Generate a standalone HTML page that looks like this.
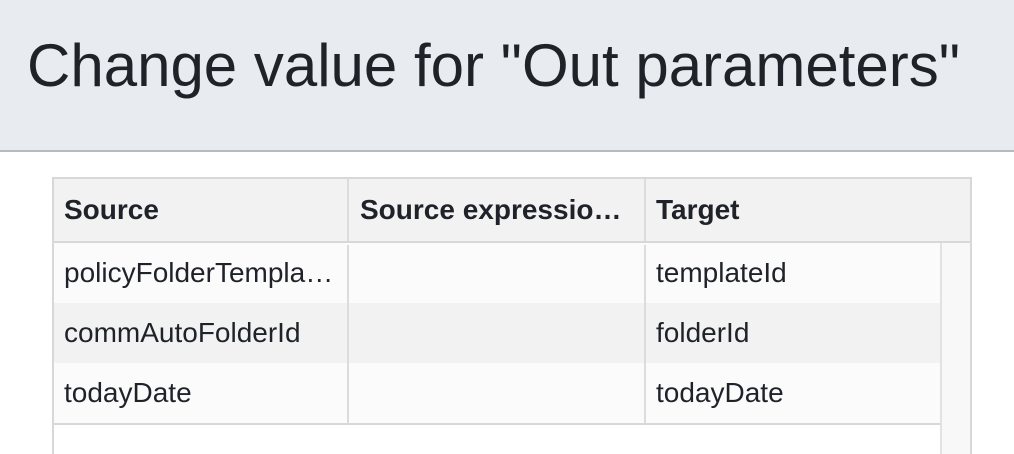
<!DOCTYPE html>
<html><head><style>
html,body{margin:0;width:1014px;height:454px;overflow:hidden}
body{background:#fff;font-family:"Liberation Sans",Arial,sans-serif;color:#1f2329;position:relative}
.hdr{position:absolute;left:0;top:0;width:1014px;height:150px;background:#e8ecf0;border-bottom:2px solid #b4bac2}
.title{position:absolute;left:27px;top:31px;font-size:60px;white-space:nowrap}
.tbl{position:absolute;left:52px;top:177px;width:916px;height:275px;border:2px solid #d8d8d8;border-bottom:none;background:#fff;overflow:hidden}
.th{position:absolute;top:0;height:62px;background:#f2f2f2;border-bottom:2px solid #d8d8d8;width:916px}
.cell{position:absolute;font-size:28px;line-height:60px;padding-left:10px;white-space:nowrap}
.b{font-weight:bold}
.vl{position:absolute;width:2px;background:#dcdcdc}
.row{position:absolute;left:0;width:886px;height:60px}
.sb{position:absolute;left:886px;top:64px;width:28px;height:220px;background:#f8f8f8;border-left:2px solid #e2e2e2}
</style></head><body>
<div class="hdr"><div class="title">Change value for "Out parameters"</div></div>
<div class="tbl">
 <div class="th"></div>
 <div class="cell b" style="left:0;top:1px">Source</div>
 <div class="cell b" style="left:296px;top:1px">Source expressio…</div>
 <div class="cell b" style="left:592px;top:1px">Target</div>
 <div class="vl" style="left:293px;top:0;height:62px"></div>
 <div class="vl" style="left:590px;top:0;height:62px"></div>
 <div class="row" style="top:64px;background:#fbfbfb"></div>
 <div class="row" style="top:124px;background:#f2f2f2"></div>
 <div class="row" style="top:184px;background:#fbfbfb;border-bottom:2px solid #d8d8d8"></div>
 <div class="vl" style="left:293px;top:66px;height:178px"></div>
 <div class="vl" style="left:590px;top:66px;height:178px"></div>
 <div class="sb"></div>
 <div class="cell" style="left:0;top:64px">policyFolderTempla…</div>
 <div class="cell" style="left:592px;top:64px">templateId</div>
 <div class="cell" style="left:0;top:124px">commAutoFolderId</div>
 <div class="cell" style="left:592px;top:124px">folderId</div>
 <div class="cell" style="left:0;top:184px">todayDate</div>
 <div class="cell" style="left:592px;top:184px">todayDate</div>
</div>
</body></html>
